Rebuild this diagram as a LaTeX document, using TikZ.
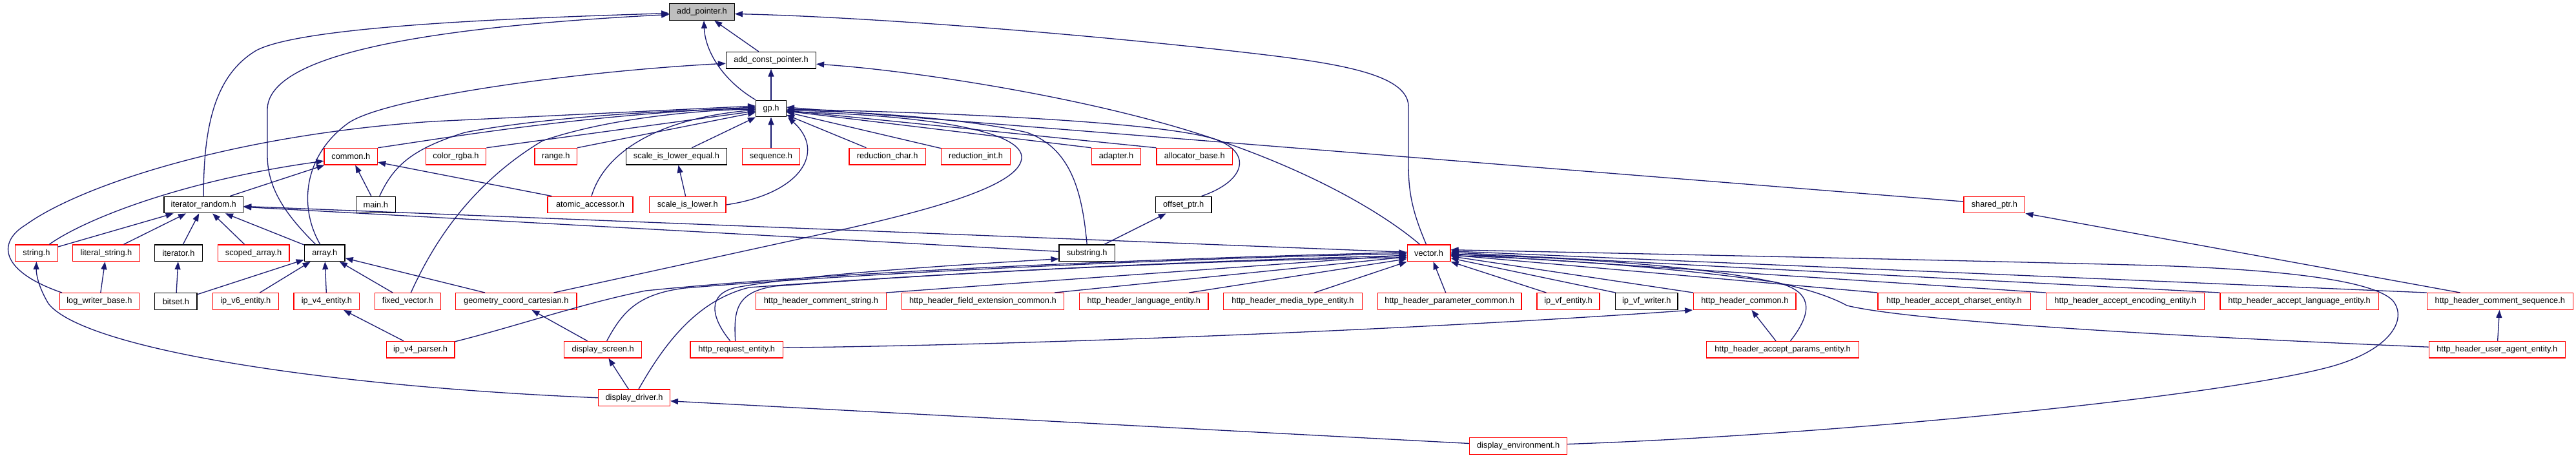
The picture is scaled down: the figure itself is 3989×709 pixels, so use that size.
\documentclass[tikz,border=0pt]{standalone}
\usepackage{fontspec}
\newfontfamily\nodefont{Liberation Sans}
\usetikzlibrary{arrows.meta,calc}
\definecolor{edgecol}{HTML}{191970}
\definecolor{nodered}{HTML}{FF0000}
\definecolor{rootfill}{HTML}{BFBFBF}
\tikzset{
  hdr/.style={draw, line width=1.3pt, minimum height=25.6pt, inner sep=0pt, fill=white,
    font=\nodefont\fontsize{12.8}{15}\selectfont},
  rbox/.style={hdr, draw=nodered},
  blkbox/.style={hdr, draw=black},
  gbox/.style={hdr, draw=black, fill=rootfill},
  dep/.style={draw=edgecol, line width=1.3pt, -{Triangle[length=12pt,width=9pt]}}
}
\begin{document}
\begin{tikzpicture}[x=1pt,y=-1pt]
\path[fill=white,use as bounding box] (0,0) rectangle (3989,709);
% row 1-3
\node[gbox, minimum width=100.4pt] (addp) at (1087,18.5) {add\_pointer.h};
\node[blkbox, minimum width=139pt] (addcp) at (1194,93.2) {add\_const\_pointer.h};
\node[blkbox, minimum width=46.6pt] (gp) at (1194,168) {gp.h};
% row 4
\node[rbox, minimum width=82.6pt] (common) at (543.3,242.2) {common.h};
\node[rbox, minimum width=93.4pt] (color) at (706,242.2) {color\_rgba.h};
\node[rbox, minimum width=65.3pt] (range) at (860.7,242.2) {range.h};
\node[blkbox, minimum width=156pt] (sile) at (1047.4,242.2) {scale\_is\_lower\_equal.h};
\node[rbox, minimum width=89.3pt] (seq) at (1194,242.2) {sequence.h};
\node[rbox, minimum width=118.2pt] (rchar) at (1374.1,242.2) {reduction\_char.h};
\node[rbox, minimum width=106.8pt] (rint) at (1511,242.2) {reduction\_int.h};
\node[rbox, minimum width=76pt] (adapter) at (1728.5,242.2) {adapter.h};
\node[rbox, minimum width=117.5pt] (alloc) at (1849.7,242.2) {allocator\_base.h};
% row 5
\node[blkbox, minimum width=122.7pt] (itr) at (315.2,317) {iterator\_random.h};
\node[blkbox, minimum width=61.1pt] (main) at (581.8,317) {main.h};
\node[rbox, minimum width=132pt] (atomic) at (914,317) {atomic\_accessor.h};
\node[rbox, minimum width=118.7pt] (sil) at (1064.7,317) {scale\_is\_lower.h};
\node[blkbox, minimum width=86.8pt] (offset) at (1832.6,317) {offset\_ptr.h};
\node[rbox, minimum width=94.9pt] (shared) at (3088.3,317) {shared\_ptr.h};
% row 6
\node[rbox, minimum width=65.8pt] (string) at (56.4,391.7) {string.h};
\node[rbox, minimum width=103.4pt] (literal) at (164.5,391.7) {literal\_string.h};
\node[blkbox, minimum width=73.5pt] (iterator) at (276.5,391.7) {iterator.h};
\node[rbox, minimum width=110.7pt] (scoped) at (392.5,391.7) {scoped\_array.h};
\node[blkbox, minimum width=62.8pt] (array) at (502.7,391.7) {array.h};
\node[blkbox, minimum width=86.4pt] (substring) at (1683.2,391.7) {substring.h};
\node[rbox, minimum width=66.7pt] (vector) at (2212.5,391.7) {vector.h};
% row 7
\node[rbox, minimum width=123.1pt] (logw) at (153.9,466.5) {log\_writer\_base.h};
\node[blkbox, minimum width=65.4pt] (bitset) at (272.4,466.5) {bitset.h};
\node[rbox, minimum width=101.8pt] (ipv6) at (380.3,466.5) {ip\_v6\_entity.h};
\node[rbox, minimum width=101.8pt] (ipv4) at (505.9,466.5) {ip\_v4\_entity.h};
\node[rbox, minimum width=102pt] (fixed) at (631.3,466.5) {fixed\_vector.h};
\node[rbox, minimum width=187.2pt] (geom) at (799.3,466.5) {geometry\_coord\_cartesian.h};
\node[rbox, minimum width=201.5pt] (hhcs) at (1271.4,466.5) {http\_header\_comment\_string.h};
\node[rbox, minimum width=250.8pt] (hhfec) at (1521.9,466.5) {http\_header\_field\_extension\_common.h};
\node[rbox, minimum width=199.1pt] (hhle) at (1771.3,466.5) {http\_header\_language\_entity.h};
\node[rbox, minimum width=215.2pt] (hhmte) at (2001.9,466.5) {http\_header\_media\_type\_entity.h};
\node[rbox, minimum width=222.6pt] (hhpc) at (2244.7,466.5) {http\_header\_parameter\_common.h};
\node[rbox, minimum width=97pt] (ipvfe) at (2428.5,466.5) {ip\_vf\_entity.h};
\node[blkbox, minimum width=96.2pt] (ipvfw) at (2549.8,466.5) {ip\_vf\_writer.h};
\node[rbox, minimum width=158.3pt] (hhc) at (2701.9,466.5) {http\_header\_common.h};
\node[rbox, minimum width=236.3pt] (hhace) at (3026,466.5) {http\_header\_accept\_charset\_entity.h};
\node[rbox, minimum width=245.2pt] (hhaee) at (3291.2,466.5) {http\_header\_accept\_encoding\_entity.h};
\node[rbox, minimum width=245.2pt] (hhale) at (3560.6,466.5) {http\_header\_accept\_language\_entity.h};
\node[rbox, minimum width=225.9pt] (hhcseq) at (3871.3,466.5) {http\_header\_comment\_sequence.h};
% row 8
\node[rbox, minimum width=105.8pt] (ipv4p) at (651.1,541.2) {ip\_v4\_parser.h};
\node[rbox, minimum width=120.1pt] (dscreen) at (933.7,541.2) {display\_screen.h};
\node[rbox, minimum width=143.6pt] (hre) at (1140.7,541.2) {http\_request\_entity.h};
\node[rbox, minimum width=235.8pt] (hhape) at (2760.5,541.2) {http\_header\_accept\_params\_entity.h};
\node[rbox, minimum width=210.9pt] (hhuae) at (3866.8,541.2) {http\_header\_user\_agent\_entity.h};
% row 9-10
\node[rbox, minimum width=110.7pt] (ddriver) at (982,615.8) {display\_driver.h};
\node[rbox, minimum width=150.8pt] (denv) at (2351.1,690.5) {display\_environment.h};

% ---- edges into add_pointer.h
\draw[dep] (addcp) -- (addp);
\draw[dep] (gp.north west) .. controls (1120,125) and (1092,80) .. ($(addp.south)+(3,0)$);
\draw[dep] (itr.north) .. controls (315,190) and (335,115) .. (397,78) .. controls (470,40) and (800,28) .. ($(addp.west)+(0,2)$);
\draw[dep] ($(array.north)+(-14,0)$) .. controls (440,330) and (414,290) .. (414,240) -- (414,170) .. controls (414,95) and (600,45) .. ($(addp.west)+(0,4)$);
\draw[dep] ($(vector.north)+(-4,0)$) .. controls (2188,330) and (2181,300) .. (2181,255) -- (2181,165) .. controls (2181,110) and (2050,95) .. (1900,78) .. controls (1600,45) and (1300,25) .. ($(addp.east)+(0,3)$);
% ---- into add_const_pointer.h
\draw[dep] (gp) -- (addcp);
\draw[dep] ($(array.north)+(-7,0)$) .. controls (462,320) and (470,240) .. (540,190) .. controls (600,150) and (900,110) .. ($(addcp.west)+(0,5)$);
\draw[dep] ($(vector.north)+(-14,0)$) .. controls (2130,320) and (2000,250) .. (1833,200) .. controls (1650,145) and (1400,108) .. ($(addcp.east)+(0,6)$);
% ---- into gp.h (left)
\draw[dep] ($(logw.north)+(-58,0)$) .. controls (0,420) and (-5,375) .. (40,348) .. controls (120,290) and (350,210) .. (670,188) -- ($(gp.west)+(0,-4)$);
\draw[dep] (common.north east) .. controls (700,212) and (900,178) .. ($(gp.west)+(0,-2)$);
\draw[dep] ($(main.north)+(6,0)$) .. controls (610,255) and (640,230) .. (720,205) .. controls (850,180) and (1050,170) .. (gp.west);
\draw[dep] (color.north east) -- ($(gp.west)+(0,4)$);
\draw[dep] (range.north east) -- ($(gp.west)+(0,6)$);
\draw[dep] ($(atomic.north)+(2,0)$) .. controls (935,240) and (1010,185) .. ($(gp.west)+(0,2)$);
\draw[dep] ($(fixed.north)+(5,0)$) .. controls (665,390) and (720,290) .. (840,218) .. controls (950,180) and (1100,170) .. ($(gp.west)+(0,1)$);
\draw[dep] ($(sile.north)+(24,0)$) -- (gp.south west);
\draw[dep] (seq) -- (gp);
\draw[dep] (sil.east) .. controls (1240,300) and (1280,235) .. ($(gp.south east)+(2,0)$);
% ---- into gp.h (right)
\draw[dep] (rchar) -- (gp);
\draw[dep] (rint) -- (gp);
\draw[dep] (adapter.north west) -- ($(gp.east)+(0,4)$);
\draw[dep] (alloc.north west) -- ($(gp.east)+(0,3)$);
\draw[dep] ($(shared.west)+(0,-5)$) -- ($(gp.east)+(0,-2)$);
\draw[dep] ($(offset.north east)+(-16,0)$) .. controls (1930,280) and (1940,235) .. (1880,215) .. controls (1800,190) and (1500,175) .. ($(gp.east)+(0,1)$);
\draw[dep] (substring.north) .. controls (1676,300) and (1660,230) .. (1590,205) .. controls (1480,180) and (1300,172) .. ($(gp.east)+(0,3)$);
\draw[dep] ($(geom.north east)+(-36,0)$) -- (1320,352) .. controls (1450,322) and (1585,285) .. (1582,242) .. controls (1578,200) and (1420,178) .. ($(gp.east)+(0,5)$);
% ---- into common.h
\draw[dep] (itr) -- (common);
\draw[dep] ($(string.north)+(20,0)$) .. controls (130,340) and (280,280) .. ($(common.west)+(0,7)$);
\draw[dep] (main) -- (common);
\draw[dep] ($(atomic.north west)+(7,0)$) -- ($(common.east)+(0,9)$);
% ---- into iterator_random.h
\draw[dep] (string) -- (itr);
\draw[dep] (literal) -- (itr);
\draw[dep] (iterator) -- (itr);
\draw[dep] (scoped) -- (itr);
\draw[dep] (array) -- (itr);
\draw[dep] (vector) -- (itr);
\draw[dep] (substring) -- (itr);
% ---- into array.h
\draw[dep] (bitset) -- (array);
\draw[dep] (ipv6) -- (array);
\draw[dep] (ipv4) -- (array);
\draw[dep] (fixed) -- (array);
\draw[dep] ($(geom.north west)+(46,0)$) -- ($(array.east)+(0,8)$);
% ---- misc
\draw[dep] (bitset) -- (iterator);
\draw[dep] (logw) -- (literal);
\draw[dep] (ipv4p) -- (ipv4);
\draw[dep] (dscreen) -- (geom);
\draw[dep] (ddriver) -- (dscreen);
\draw[dep] (sil) -- (sile);
\draw[dep] (substring) -- (offset);
\draw[dep] (hhape) -- (hhc);
\draw[dep] (hhuae) -- (hhcseq);
\draw[dep] ($(hhcseq.north)+(-61.6,0)$) -- (shared.south east);
\draw[dep] (ddriver.west) .. controls (500,598) and (130,540) .. (75,470) .. controls (60,445) and (56,425) .. (string.south);
\draw[dep] ($(denv.west)+(0,-4)$) -- ($(ddriver.east)+(0,5)$);
\draw[dep] ($(hre.east)+(0,-3)$) .. controls (1600,534) and (2200,510) .. ($(hhc.south west)+(-1,0)$);
% ---- into substring.h
\draw[dep] ($(hre.north)+(-10,0)$) .. controls (1100,490) and (1095,455) .. (1140,445) .. controls (1250,425) and (1450,412) .. ($(substring.west)+(0,9)$);
% ---- into vector.h (left)
\draw[dep] ($(hhcs.north east)+(-1,0)$) -- ($(vector.west)+(0,3)$);
\draw[dep] ($(hhfec.north east)+(-15,0)$) -- ($(vector.west)+(0,6)$);
\draw[dep] ($(hhle.north)+(70,0)$) -- ($(vector.west)+(0,9)$);
\draw[dep] ($(hhmte.north)+(33.5,0)$) -- (vector.south west);
\draw[dep] ($(hhpc.north)+(-6,0)$) -- ($(vector.south)+(7,0)$);
\draw[dep] ($(ipv4p.north east)+(0,1)$) .. controls (800,505) and (900,470) .. (1000,450) .. controls (1300,420) and (1800,400) .. ($(vector.west)+(0,-1)$);
\draw[dep] ($(dscreen.north)+(6,0)$) .. controls (965,480) and (990,455) .. (1060,446) .. controls (1400,418) and (1900,398) .. ($(vector.west)+(0,1)$);
\draw[dep] ($(hre.north)+(-2,0)$) .. controls (1136,480) and (1140,452) .. (1200,443) .. controls (1500,420) and (1900,402) .. ($(vector.west)+(0,4)$);
\draw[dep] ($(ddriver.north)+(7,0)$) .. controls (1030,530) and (1080,465) .. (1160,445) .. controls (1500,420) and (1900,402) .. ($(vector.west)+(0,7)$);
% ---- into vector.h (right)
\draw[dep] ($(ipvfe.north)+(-34,0)$) -- (vector.south east);
\draw[dep] ($(ipvfw.north)+(-48,0)$) -- ($(vector.east)+(0,8)$);
\draw[dep] (hhc.north west) -- ($(vector.east)+(0,5)$);
\draw[dep] (hhace.north west) -- ($(vector.east)+(0,3)$);
\draw[dep] (hhaee.north west) -- ($(vector.east)+(0,1)$);
\draw[dep] (hhale.north west) -- ($(vector.east)+(0,-1)$);
\draw[dep] (hhcseq.north west) -- ($(vector.east)+(0,-3)$);
\draw[dep] ($(denv.east)+(0,-3)$) .. controls (2800,675) and (3400,620) .. (3600,570) .. controls (3700,545) and (3730,495) .. (3705,465) .. controls (3670,430) and (3500,415) .. (3300,410) .. controls (2900,400) and (2500,392) .. ($(vector.east)+(0,-5)$);
\draw[dep] ($(hhuae.west)+(0,-4)$) .. controls (3300,518) and (2950,495) .. (2860,473) .. controls (2800,440) and (2650,405) .. ($(vector.east)+(0,2)$);
\draw[dep] ($(hhape.north)+(12,0)$) .. controls (2810,480) and (2805,450) .. (2750,437) .. controls (2600,415) and (2400,400) .. ($(vector.east)+(0,4)$);
\end{tikzpicture}
\end{document}
